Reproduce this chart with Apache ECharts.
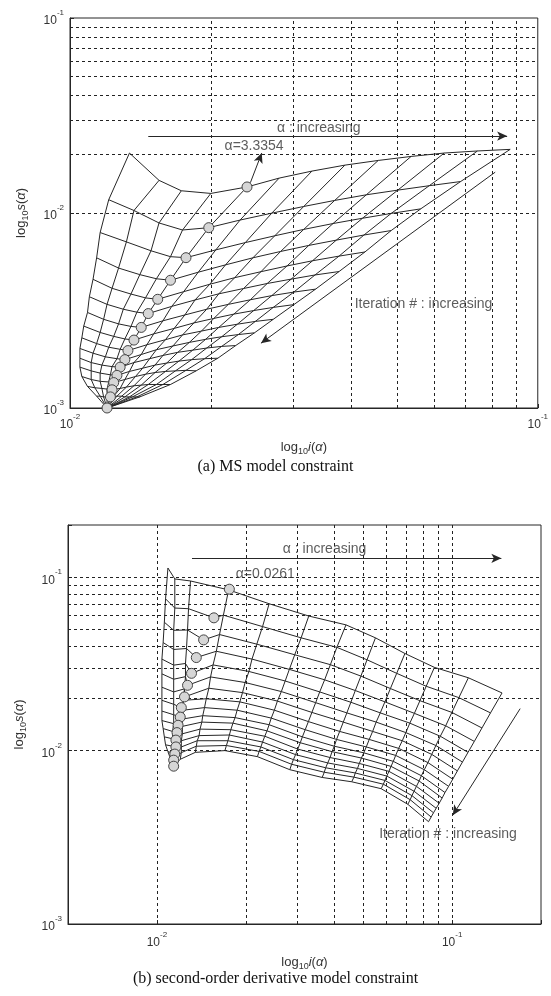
<!DOCTYPE html>
<html>
<head>
<meta charset="utf-8">
<script src="https://cdn.jsdelivr.net/npm/echarts@6/dist/echarts.min.js"></script>
<style>
html, body { margin: 0; padding: 0; background: #fff; }
#chart { width: 551px; height: 996px; }
</style>
</head>
<body>
<div id="chart"></div>
<script>
// (a) MS model constraint: one row per iteration, one column per alpha
const msIterX = [
  [0.0134,0.0155,0.0173,0.0200,0.0239,0.0280,0.0329,0.0387,0.0456,0.0536,0.0631,0.0743,0.0873],
  [0.0121,0.0137,0.0155,0.0174,0.0198,0.0231,0.0270,0.0316,0.0368,0.0430,0.0502,0.0586,0.0684],
  [0.0116,0.0132,0.0149,0.0164,0.0177,0.0205,0.0237,0.0274,0.0316,0.0365,0.0422,0.0486,0.0562],
  [0.0114,0.0127,0.0141,0.0153,0.0164,0.0188,0.0215,0.0246,0.0282,0.0324,0.0371,0.0425,0.0486],
  [0.0112,0.0123,0.0135,0.0145,0.0154,0.0175,0.0199,0.0225,0.0256,0.0291,0.0330,0.0376,0.0427],
  [0.0110,0.0120,0.0130,0.0139,0.0147,0.0165,0.0185,0.0208,0.0235,0.0264,0.0297,0.0334,0.0376],
  [0.0109,0.0118,0.0127,0.0135,0.0142,0.0158,0.0176,0.0196,0.0218,0.0243,0.0270,0.0301,0.0335],
  [0.0107,0.0116,0.0124,0.0131,0.0137,0.0151,0.0167,0.0184,0.0203,0.0224,0.0247,0.0272,0.0301],
  [0.0106,0.0114,0.0121,0.0128,0.0133,0.0146,0.0160,0.0174,0.0191,0.0208,0.0228,0.0249,0.0272],
  [0.0105,0.0112,0.0119,0.0126,0.0131,0.0142,0.0153,0.0166,0.0180,0.0195,0.0211,0.0229,0.0248],
  [0.0105,0.0111,0.0117,0.0123,0.0128,0.0137,0.0148,0.0158,0.0170,0.0183,0.0196,0.0211,0.0226],
  [0.0105,0.0111,0.0116,0.0122,0.0126,0.0134,0.0143,0.0152,0.0161,0.0171,0.0182,0.0194,0.0207],
  [0.0106,0.0111,0.0116,0.0121,0.0124,0.0131,0.0138,0.0145,0.0152,0.0160,0.0168,0.0177,0.0186],
  [0.0109,0.0113,0.0117,0.0120,0.0123,0.0128,0.0132,0.0137,0.0142,0.0147,0.0153,0.0158,0.0164],
  [0.0114,0.0116,0.0118,0.0120,0.0122,0.0124,0.0126,0.0129,0.0131,0.0134,0.0136,0.0139,0.0141],
  [0.0120,0.0120,0.0120,0.0120,0.0120,0.0120,0.0120,0.0120,0.0120,0.0120,0.0120,0.0120,0.0120]
];
const msIterY = [
  [0.0203,0.0147,0.0130,0.0126,0.0136,0.0151,0.0164,0.0176,0.0186,0.0195,0.0203,0.0208,0.0212],
  [0.0117,0.0103,0.00889,0.00818,0.00841,0.00920,0.00998,0.0108,0.0116,0.0124,0.0131,0.0138,0.0145],
  [0.00794,0.00711,0.00640,0.00597,0.00590,0.00647,0.00705,0.00764,0.00824,0.00883,0.00940,0.00995,0.0105],
  [0.00589,0.00522,0.00483,0.00460,0.00452,0.00497,0.00542,0.00589,0.00635,0.00682,0.00726,0.00771,0.00813],
  [0.00457,0.00411,0.00384,0.00367,0.00361,0.00395,0.00431,0.00466,0.00500,0.00535,0.00569,0.00601,0.00631],
  [0.00372,0.00340,0.00321,0.00310,0.00305,0.00332,0.00358,0.00385,0.00410,0.00435,0.00458,0.00481,0.00501],
  [0.00309,0.00285,0.00270,0.00262,0.00259,0.00280,0.00300,0.00321,0.00340,0.00359,0.00377,0.00393,0.00407],
  [0.00263,0.00244,0.00233,0.00226,0.00223,0.00240,0.00256,0.00273,0.00288,0.00303,0.00316,0.00328,0.00339],
  [0.00229,0.00214,0.00205,0.00200,0.00197,0.00211,0.00224,0.00237,0.00248,0.00259,0.00269,0.00278,0.00285],
  [0.00202,0.00191,0.00183,0.00179,0.00177,0.00188,0.00199,0.00208,0.00217,0.00225,0.00232,0.00238,0.00243],
  [0.00180,0.00171,0.00166,0.00163,0.00162,0.00171,0.00179,0.00186,0.00193,0.00198,0.00203,0.00207,0.00209],
  [0.00162,0.00155,0.00151,0.00148,0.00147,0.00154,0.00160,0.00166,0.00170,0.00174,0.00177,0.00179,0.00180],
  [0.00145,0.00140,0.00137,0.00136,0.00135,0.00140,0.00145,0.00149,0.00152,0.00154,0.00155,0.00156,0.00155],
  [0.00129,0.00127,0.00126,0.00125,0.00124,0.00126,0.00128,0.00130,0.00131,0.00132,0.00132,0.00132,0.00132],
  [0.00115,0.00115,0.00114,0.00114,0.00114,0.00115,0.00115,0.00115,0.00114,0.00114,0.00114,0.00114,0.00114],
  [0.00100,0.00100,0.00100,0.00100,0.00100,0.00100,0.00100,0.00100,0.00100,0.00100,0.00100,0.00100,0.00100]
];
// optimum alpha on each iteration (circles)
const msOptX = [0.0239,0.0198,0.0177,0.0164,0.0154,0.0147,0.0142,0.0137,0.0133,0.0131,0.0128,0.0126,0.0124,0.0123,0.0122,0.0120];
const msOptY = [0.0136,0.00841,0.00590,0.00452,0.00361,0.00305,0.00259,0.00223,0.00197,0.00177,0.00162,0.00147,0.00135,0.00124,0.00114,0.00100];

// (b) second-order derivative model constraint
const sdIterX = [
  [0.0109,0.0115,0.0130,0.0175,0.0240,0.0327,0.0437,0.0550,0.0692,0.0871,0.1135,0.1476],
  [0.0107,0.0115,0.0128,0.0168,0.0228,0.0308,0.0407,0.0515,0.0649,0.0817,0.1054,0.1349],
  [0.0106,0.0114,0.0127,0.0163,0.0218,0.0293,0.0387,0.0491,0.0618,0.0778,0.0998,0.1262],
  [0.0105,0.0114,0.0126,0.0159,0.0210,0.0281,0.0370,0.0470,0.0592,0.0745,0.0951,0.1189],
  [0.0104,0.0114,0.0125,0.0155,0.0205,0.0272,0.0356,0.0454,0.0571,0.0719,0.0912,0.1132],
  [0.0104,0.0114,0.0125,0.0152,0.0199,0.0264,0.0345,0.0440,0.0553,0.0697,0.0881,0.1084],
  [0.0104,0.0114,0.0124,0.0150,0.0195,0.0256,0.0335,0.0428,0.0538,0.0678,0.0853,0.1042],
  [0.0104,0.0114,0.0123,0.0147,0.0191,0.0250,0.0326,0.0416,0.0524,0.0659,0.0828,0.1005],
  [0.0104,0.0114,0.0123,0.0145,0.0187,0.0244,0.0318,0.0406,0.0512,0.0644,0.0805,0.0973],
  [0.0104,0.0114,0.0122,0.0143,0.0184,0.0240,0.0311,0.0399,0.0502,0.0632,0.0787,0.0946],
  [0.0105,0.0113,0.0122,0.0142,0.0181,0.0236,0.0306,0.0392,0.0493,0.0621,0.0773,0.0925],
  [0.0106,0.0113,0.0122,0.0140,0.0178,0.0232,0.0300,0.0386,0.0485,0.0611,0.0757,0.0904],
  [0.0107,0.0113,0.0121,0.0139,0.0176,0.0228,0.0295,0.0379,0.0478,0.0601,0.0743,0.0883],
  [0.0109,0.0113,0.0121,0.0137,0.0174,0.0225,0.0290,0.0373,0.0470,0.0592,0.0731,0.0865],
  [0.0111,0.0113,0.0121,0.0136,0.0172,0.0222,0.0286,0.0369,0.0465,0.0585,0.0721,0.0849],
  [0.0112,0.0113,0.0120,0.0135,0.0170,0.0219,0.0282,0.0363,0.0457,0.0575,0.0708,0.0832]
];
const sdIterY = [
  [0.1130,0.0977,0.0951,0.0845,0.0703,0.0597,0.0531,0.0447,0.0363,0.0302,0.0263,0.0215],
  [0.0750,0.0664,0.0658,0.0604,0.0519,0.0447,0.0394,0.0334,0.0279,0.0235,0.0202,0.0165],
  [0.0550,0.0494,0.0496,0.0467,0.0411,0.0357,0.0313,0.0269,0.0228,0.0194,0.0166,0.0135],
  [0.0420,0.0383,0.0388,0.0374,0.0337,0.0294,0.0256,0.0222,0.0191,0.0164,0.0139,0.0113],
  [0.0337,0.0311,0.0318,0.0312,0.0286,0.0252,0.0218,0.0190,0.0165,0.0144,0.0121,0.00977],
  [0.0277,0.0258,0.0267,0.0266,0.0247,0.0219,0.0189,0.0165,0.0146,0.0127,0.0107,0.00859],
  [0.0232,0.0218,0.0227,0.0229,0.0216,0.0193,0.0166,0.0146,0.0129,0.0114,0.00951,0.00764],
  [0.0195,0.0185,0.0195,0.0199,0.0191,0.0171,0.0147,0.0129,0.0116,0.0103,0.00853,0.00684],
  [0.0169,0.0161,0.0171,0.0177,0.0171,0.0154,0.0132,0.0116,0.0105,0.00938,0.00776,0.00622],
  [0.0149,0.0143,0.0152,0.0159,0.0155,0.0141,0.0120,0.0106,0.00971,0.00867,0.00716,0.00573],
  [0.0134,0.0129,0.0138,0.0146,0.0144,0.0130,0.0111,0.00986,0.00906,0.00811,0.00668,0.00533],
  [0.0120,0.0117,0.0125,0.0133,0.0132,0.0121,0.0102,0.00912,0.00843,0.00759,0.00622,0.00497],
  [0.0108,0.0106,0.0114,0.0122,0.0123,0.0112,0.00948,0.00849,0.00789,0.00713,0.00583,0.00465],
  [0.00986,0.00971,0.0105,0.0114,0.0114,0.0105,0.00887,0.00796,0.00743,0.00673,0.00550,0.00438],
  [0.00906,0.00897,0.00973,0.0106,0.0107,0.00989,0.00834,0.00750,0.00703,0.00640,0.00521,0.00414],
  [0.00822,0.00819,0.00891,0.00977,0.0100,0.00923,0.00776,0.00700,0.00661,0.00603,0.00490,0.00389]
];
const sdOptX = [0.0176,0.0156,0.0144,0.0136,0.0131,0.0127,0.0124,0.0121,0.0120,0.0118,0.0117,0.0116,0.0116,0.0115,0.0114,0.0114];
const sdOptY = [0.0853,0.0583,0.0435,0.0344,0.0279,0.0238,0.0204,0.0177,0.0156,0.0140,0.0127,0.0115,0.0105,0.00955,0.00881,0.00813];

// dotted grid positions
const gridAX = [0.02,0.03,0.04,0.05,0.06,0.07,0.08,0.09];
const gridAY = [0.002,0.003,0.004,0.005,0.006,0.007,0.008,0.009,0.01,0.02,0.03,0.04,0.05,0.06,0.07,0.08,0.09];
const gridBX = [0.006,0.007,0.008,0.009,0.01,0.02,0.03,0.04,0.05,0.06,0.07,0.08,0.09,0.1];
const gridBY = [0.002,0.003,0.004,0.005,0.006,0.007,0.008,0.009,0.01,0.02,0.03,0.04,0.05,0.06,0.07,0.08,0.09,0.1];

// annotations (data coordinates)
const notesA = [[0.0277, 0.0272, 'α : increasing'], [0.0214, 0.0219, 'α=3.3354'], [0.0406, 0.00342, 'Iteration # : increasing']];
const arrowsA = [[[0.0147, 0.0248], [0.0860, 0.0248]], [[0.0243, 0.0143], [0.0257, 0.0203]], [[0.0811, 0.0162], [0.0256, 0.00215]]];
const notesB = [[0.0267, 0.146, 'α : increasing'], [0.0185, 0.104, 'α=0.0261'], [0.0566, 0.00331, 'Iteration # : increasing']];
const arrowsB = [[[0.01315, 0.1285], [0.1468, 0.1285]], [[0.170, 0.01746], [0.1005, 0.00424]]];

const INK = '#262626';
const FONT = 'Liberation Sans, Arial, sans-serif';

function powLabel(v) {
  const e = Math.log10(v);
  const r = Math.round(e);
  if (Math.abs(e - r) > 1e-6) return '';
  return '{b|10}{s|' + r + '}';
}
const powRich = {
  b: { fontSize: 12, lineHeight: 18, verticalAlign: 'bottom', color: '#333', fontFamily: FONT },
  s: { fontSize: 8, lineHeight: 8, verticalAlign: 'top', color: '#333', fontFamily: FONT }
};
const nameRich = {
  sub: { fontSize: 9, lineHeight: 9, verticalAlign: 'bottom', color: '#333', fontFamily: FONT },
  it: { fontSize: 13, fontStyle: 'italic', color: '#333', fontFamily: FONT }
};

function axis(gi, min, max, name, gap, margin) {
  return {
    type: 'log', logBase: 10, gridIndex: gi, min: min, max: max,
    name: name, nameLocation: 'middle', nameGap: gap,
    nameTextStyle: { fontSize: 13, lineHeight: 18, color: '#333', fontFamily: FONT, rich: nameRich },
    axisLine: { show: true, lineStyle: { color: INK, width: 1 } },
    axisTick: { show: true, inside: true, length: 4, lineStyle: { color: INK } },
    splitLine: { show: false },
    axisLabel: { formatter: powLabel, rich: powRich, margin: margin, showMinLabel: true, showMaxLabel: true }
  };
}

function line(pts, gi) {
  return {
    type: 'line', xAxisIndex: gi, yAxisIndex: gi, data: pts,
    showSymbol: false, symbol: 'none', silent: true, z: 3,
    lineStyle: { color: INK, width: 1 }
  };
}

function mesh(rowsX, rowsY, optX, optY, gi) {
  const out = [];
  rowsX.forEach((xs, k) => {
    const pts = xs.map((x, j) => [x, rowsY[k][j]]);
    pts.push([optX[k], optY[k]]);
    pts.sort((a, b) => a[0] - b[0]);
    out.push(line(pts, gi));
  });
  for (let j = 0; j < rowsX[0].length; j++) {
    out.push(line(rowsX.map((xs, k) => [xs[j], rowsY[k][j]]), gi));
  }
  out.push({
    type: 'scatter', xAxisIndex: gi, yAxisIndex: gi, z: 6, clip: false, silent: true,
    symbol: 'circle', symbolSize: 10,
    itemStyle: { color: '#d6d6d6', borderColor: '#444', borderWidth: 1, opacity: 1 },
    data: optX.map((x, k) => [x, optY[k]])
  });
  return out;
}

function gridLines(gx, gy, x0, y0, gi) {
  return {
    type: 'line', xAxisIndex: gi, yAxisIndex: gi, data: [[x0, y0]],
    showSymbol: false, symbol: 'none', silent: true, z: 1, lineStyle: { opacity: 0 },
    markLine: {
      silent: true, symbol: 'none', label: { show: false },
      lineStyle: { color: '#222', width: 1, type: [3, 3] },
      data: gx.map(v => ({ xAxis: v })).concat(gy.map(v => ({ yAxis: v })))
    }
  };
}

function notes(list, arrows, gi) {
  return {
    type: 'scatter', xAxisIndex: gi, yAxisIndex: gi, symbolSize: 0, z: 8, silent: true, clip: false,
    data: list.map(n => ({ value: [n[0], n[1]], name: n[2] })),
    label: {
      show: true, position: 'right', distance: 0, formatter: p => p.name,
      fontSize: 14, color: '#333', fontFamily: FONT
    },
    markLine: {
      silent: true, symbol: ['none', 'arrow'], symbolSize: [7, 10], label: { show: false },
      lineStyle: { color: INK, width: 1, type: 'solid' },
      data: arrows.map(a => [{ coord: a[0] }, { coord: a[1] }])
    }
  };
}

const chart = echarts.init(document.getElementById('chart'), null, { renderer: 'canvas' });
chart.setOption({
  animation: false,
  backgroundColor: '#fff',
  title: [
    { text: '(a) MS model constraint', left: 'center', top: 454,
      textStyle: { fontFamily: 'Liberation Serif, Times New Roman, serif', fontSize: 16, fontWeight: 'normal', color: '#111' } },
    { text: '(b) second-order derivative model constraint', left: 'center', top: 966,
      textStyle: { fontFamily: 'Liberation Serif, Times New Roman, serif', fontSize: 16, fontWeight: 'normal', color: '#111' } }
  ],
  grid: [
    { left: 70, top: 18, width: 471, height: 390, show: true, borderColor: INK, borderWidth: 1, backgroundColor: '#fff' },
    { left: 68, top: 525, width: 473, height: 399, show: true, borderColor: INK, borderWidth: 1, backgroundColor: '#fff' }
  ],
  xAxis: [
    axis(0, 0.01, 0.1, 'log{sub|10}{it|i}({it|α})', 30, 5),
    axis(1, 0.005, 0.2, 'log{sub|10}{it|i}({it|α})', 29, 7)
  ],
  yAxis: [
    axis(0, 0.001, 0.1, 'log{sub|10}{it|s}({it|α})', 40, 6),
    axis(1, 0.001, 0.2, 'log{sub|10}{it|s}({it|α})', 40, 6)
  ],
  series: [].concat(
    gridLines(gridAX, gridAY, 0.01, 0.001, 0),
    gridLines(gridBX, gridBY, 0.005, 0.001, 1),
    mesh(msIterX, msIterY, msOptX, msOptY, 0),
    mesh(sdIterX, sdIterY, sdOptX, sdOptY, 1),
    notes(notesA, arrowsA, 0),
    notes(notesB, arrowsB, 1)
  )
});
</script>
</body>
</html>
